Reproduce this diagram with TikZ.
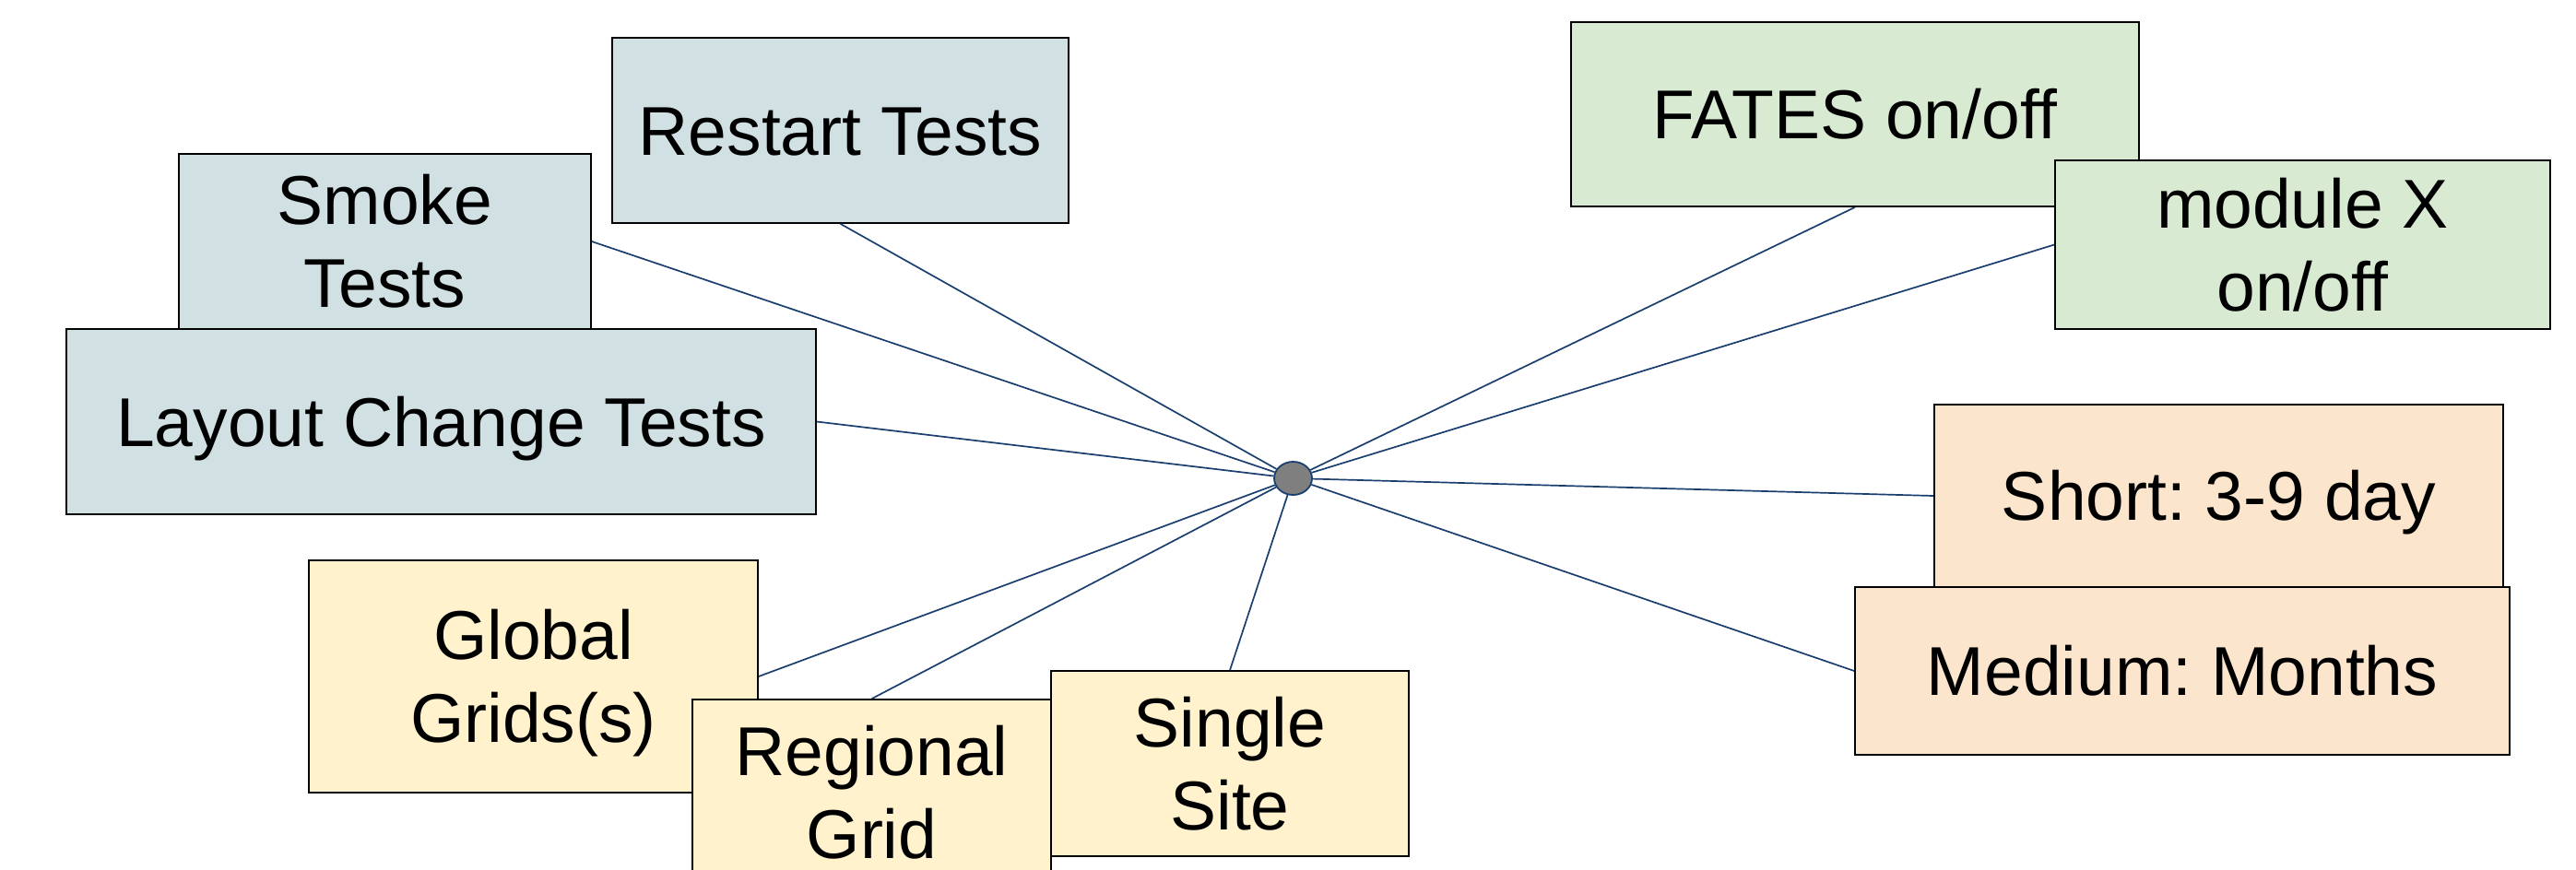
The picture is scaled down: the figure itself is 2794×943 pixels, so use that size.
\documentclass[tikz,border=0pt]{standalone}
\usepackage{fontspec}
\setmainfont{Liberation Sans}
\usetikzlibrary{shapes.geometric}
\definecolor{boxblue}{HTML}{D0E0E3}
\definecolor{boxgreen}{HTML}{D9EAD3}
\definecolor{boxorange}{HTML}{FCE5CD}
\definecolor{boxyellow}{HTML}{FFF2CC}
\definecolor{linkblue}{HTML}{1A3F6F}
\definecolor{hubgray}{HTML}{7F7F7F}
\tikzset{
  card/.style={draw=black, line width=1.7pt, rectangle, inner sep=0pt, align=center,
    font=\fontsize{75}{90}\selectfont\frenchspacing, text depth=0pt},
  oneline/.style={text height=53pt},
  twoline/.style={text height=143pt},
  link/.style={draw=linkblue, line width=1.7pt},
  hubnode/.style={ellipse, draw=linkblue, fill=hubgray, line width=1.8pt,
    minimum width=41pt, minimum height=36pt, inner sep=0pt}
}
\begin{document}
\begin{tikzpicture}[x=1pt,y=-1pt]
\useasboundingbox (0,0) rectangle (2794,943);
% boxes
\node[card, oneline, fill=boxblue, minimum width=495pt, minimum height=201pt] (restart) at (911.5,141.5) {Restart Tests};
\node[card, twoline, fill=boxblue, minimum width=447pt, minimum height=190pt] (smoke) at (417.5,262) {Smoke\\Tests};
\node[card, oneline, fill=boxblue, minimum width=813pt, minimum height=201pt] (layout) at (478.5,457.5) {Layout Change Tests};
\node[card, twoline, fill=boxyellow, minimum width=487pt, minimum height=252pt] (global) at (578.5,734) {Global\\Grids(s)};
\node[card, twoline, fill=boxyellow, minimum width=389pt, minimum height=202pt] (regional) at (945.5,860) {Regional\\Grid};
\node[card, twoline, fill=boxyellow, minimum width=388pt, minimum height=201pt] (single) at (1334,828.5) {Single\\Site};
\node[card, oneline, fill=boxgreen, minimum width=616pt, minimum height=200pt] (fates) at (2012,124) {FATES on/off};
\node[card, twoline, fill=boxgreen, minimum width=537pt, minimum height=183pt] (modx) at (2497.5,265.5) {module X\\on/off};
\node[card, oneline, fill=boxorange, minimum width=617pt, minimum height=198pt] (short) at (2406.5,538) {Short: 3-9 day};
\node[card, oneline, fill=boxorange, minimum width=710pt, minimum height=182pt] (medium) at (2367,728) {Medium: Months};
% hub
\node[hubnode] (hub) at (1402.5,519) {};
% connectors
\draw[link] (hub) -- (restart.south);
\draw[link] (hub) -- (smoke.east);
\draw[link] (hub) -- (layout.east);
\draw[link] (hub) -- (global.east);
\draw[link] (hub) -- (regional.north);
\draw[link] (hub) -- (single.north);
\draw[link] (hub) -- (fates.south);
\draw[link] (hub) -- (modx.west);
\draw[link] (hub) -- (short.west);
\draw[link] (hub) -- (medium.west);
\end{tikzpicture}
\end{document}
